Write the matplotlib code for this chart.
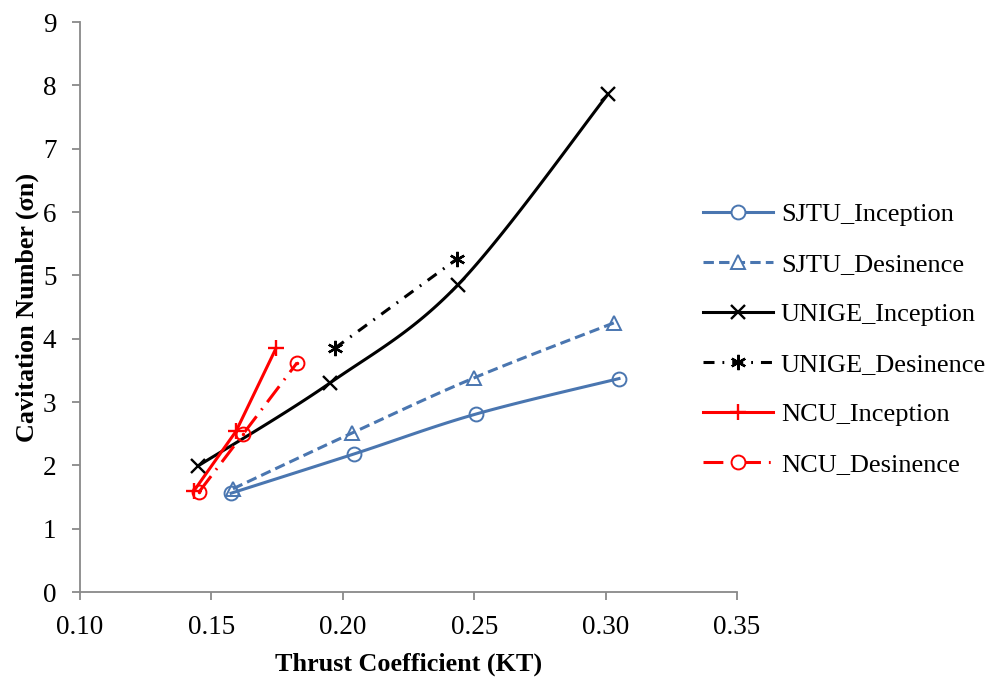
import numpy as np
import matplotlib
matplotlib.use("Agg")
import matplotlib.pyplot as plt

plt.rcParams['font.family'] = ['Liberation Serif', 'DejaVu Serif']

# Measured series: thrust coefficient KT vs cavitation number sigma_n
sjtu_inc_kt = [0.1575, 0.2043, 0.2507, 0.3051]
sjtu_inc_sn = [1.56, 2.18, 2.81, 3.37]

sjtu_des_kt = [0.1582, 0.2035, 0.2499, 0.3032]
sjtu_des_sn = [1.63, 2.51, 3.38, 4.25]

unige_inc_kt = [0.1449, 0.1951, 0.2438, 0.3009]
unige_inc_sn = [1.99, 3.30, 4.85, 7.86]

unige_des_kt = [0.1970, 0.2435]
unige_des_sn = [3.85, 5.26]

ncu_inc_kt = [0.1434, 0.1594, 0.1746]
ncu_inc_sn = [1.60, 2.54, 3.85]

ncu_des_kt = [0.1453, 0.1620, 0.1826]
ncu_des_sn = [1.58, 2.49, 3.62]

x_ticks = [0.10, 0.15, 0.20, 0.25, 0.30, 0.35]
y_ticks = list(range(0, 10))

XLIM = (0.10, 0.35)
YLIM = (0, 9)

BLUE = '#4A76B0'
RED = '#FF0000'
AXIS_GREY = '#898989'


def smooth(xs, ys, n=40):
    """Cardinal (Catmull-Rom style) bezier smoothing in normalised axis space."""
    xs = np.asarray(xs, float)
    ys = np.asarray(ys, float)
    if len(xs) < 3:
        return xs, ys
    sx = (XLIM[1] - XLIM[0]) * 1.0
    sy = (YLIM[1] - YLIM[0]) * 0.87
    p = np.column_stack([(xs - XLIM[0]) / sx, (ys - YLIM[0]) / sy])
    out = []
    t = np.linspace(0, 1, n)[:, None]
    for i in range(len(p) - 1):
        p0 = p[i - 1] if i > 0 else p[i]
        p1 = p[i]
        p2 = p[i + 1]
        p3 = p[i + 2] if i + 2 < len(p) else p[i + 1]
        c1 = p1 + (p2 - p0) / 6.0
        c2 = p2 - (p3 - p1) / 6.0
        seg = ((1 - t) ** 3) * p1 + 3 * ((1 - t) ** 2) * t * c1 + 3 * (1 - t) * t ** 2 * c2 + t ** 3 * p2
        out.append(seg if i == 0 else seg[1:])
    out = np.vstack(out)
    return out[:, 0] * sx + XLIM[0], out[:, 1] * sy + YLIM[0]


fig = plt.figure(figsize=(9.96, 6.78), dpi=100)
ax = fig.add_axes([80 / 996, 1 - 592 / 678, (737 - 80) / 996, (592 - 22) / 678])

lw = 2.2
ms = 10


def series(xs, ys, color, ls, marker, label, smooth_line, mew=1.4, msize=ms):
    if smooth_line:
        cx, cy = smooth(xs, ys)
    else:
        cx, cy = xs, ys
    hollow = marker in ('o', '^')
    ax.plot(cx, cy, color=color, lw=lw, ls=ls, zorder=2)
    ax.plot(xs, ys, ls='none', marker=marker, ms=msize, mfc='none' if hollow else color,
            mec=color, mew=mew, zorder=3)
    # legend proxy
    return ax.plot([], [], color=color, lw=lw, ls=ls, marker=marker, ms=msize,
                   mfc='white' if hollow else color, mec=color, mew=mew, label=label)[0]


dash = (0, (3.4, 1.7))
dashdot = (0, (3.6, 2.6, 0.6, 2.6))
longdashdot = (0, (6.5, 2.6, 0.6, 2.6))

series(sjtu_inc_kt, sjtu_inc_sn, BLUE, '-', 'o', 'SJTU_Inception', True)
series(sjtu_des_kt, sjtu_des_sn, BLUE, dash, '^', 'SJTU_Desinence', True)
series(unige_inc_kt, unige_inc_sn, 'black', '-', 'x', 'UNIGE_Inception', True, mew=1.7, msize=10)
series(unige_des_kt, unige_des_sn, 'black', dashdot, (6, 2, 0), 'UNIGE_Desinence', False, mew=1.7, msize=11)
series(ncu_inc_kt, ncu_inc_sn, RED, '-', '+', 'NCU_Inception', False, mew=1.7, msize=12)
series(ncu_des_kt, ncu_des_sn, RED, longdashdot, 'o', 'NCU_Desinence', False)

# small centre dot for the NCU desinence circles
ax.plot(ncu_des_kt, ncu_des_sn, ls='none', marker='.', ms=3, color=RED, zorder=4)

ax.set_xlim(*XLIM)
ax.set_ylim(*YLIM)
ax.set_xticks(x_ticks)
ax.set_xticklabels([f"{v:.2f}" for v in x_ticks])
ax.set_yticks(y_ticks)

for s in ('top', 'right'):
    ax.spines[s].set_visible(False)
for s in ('left', 'bottom'):
    ax.spines[s].set_color(AXIS_GREY)
    ax.spines[s].set_linewidth(1.3)
ax.tick_params(axis='both', direction='out', length=6, width=1.3, color=AXIS_GREY,
               labelsize=19.5, labelcolor='black')
ax.tick_params(axis='x', pad=10.5)
ax.tick_params(axis='y', pad=11)

ax.set_xlabel('Thrust Coefficient (KT)', fontsize=18.8, fontweight='bold', labelpad=9)
ax.set_ylabel('Cavitation Number (σn)', fontsize=18.8, fontweight='bold', labelpad=3)

leg = fig.legend(loc='upper left', bbox_to_anchor=(703 / 996, 1 - 203 / 678), frameon=False,
                 fontsize=19, handlelength=2.65, labelspacing=1.0, handletextpad=0.3,
                 borderpad=0, borderaxespad=0)

fig.savefig('out.png', dpi=100)
